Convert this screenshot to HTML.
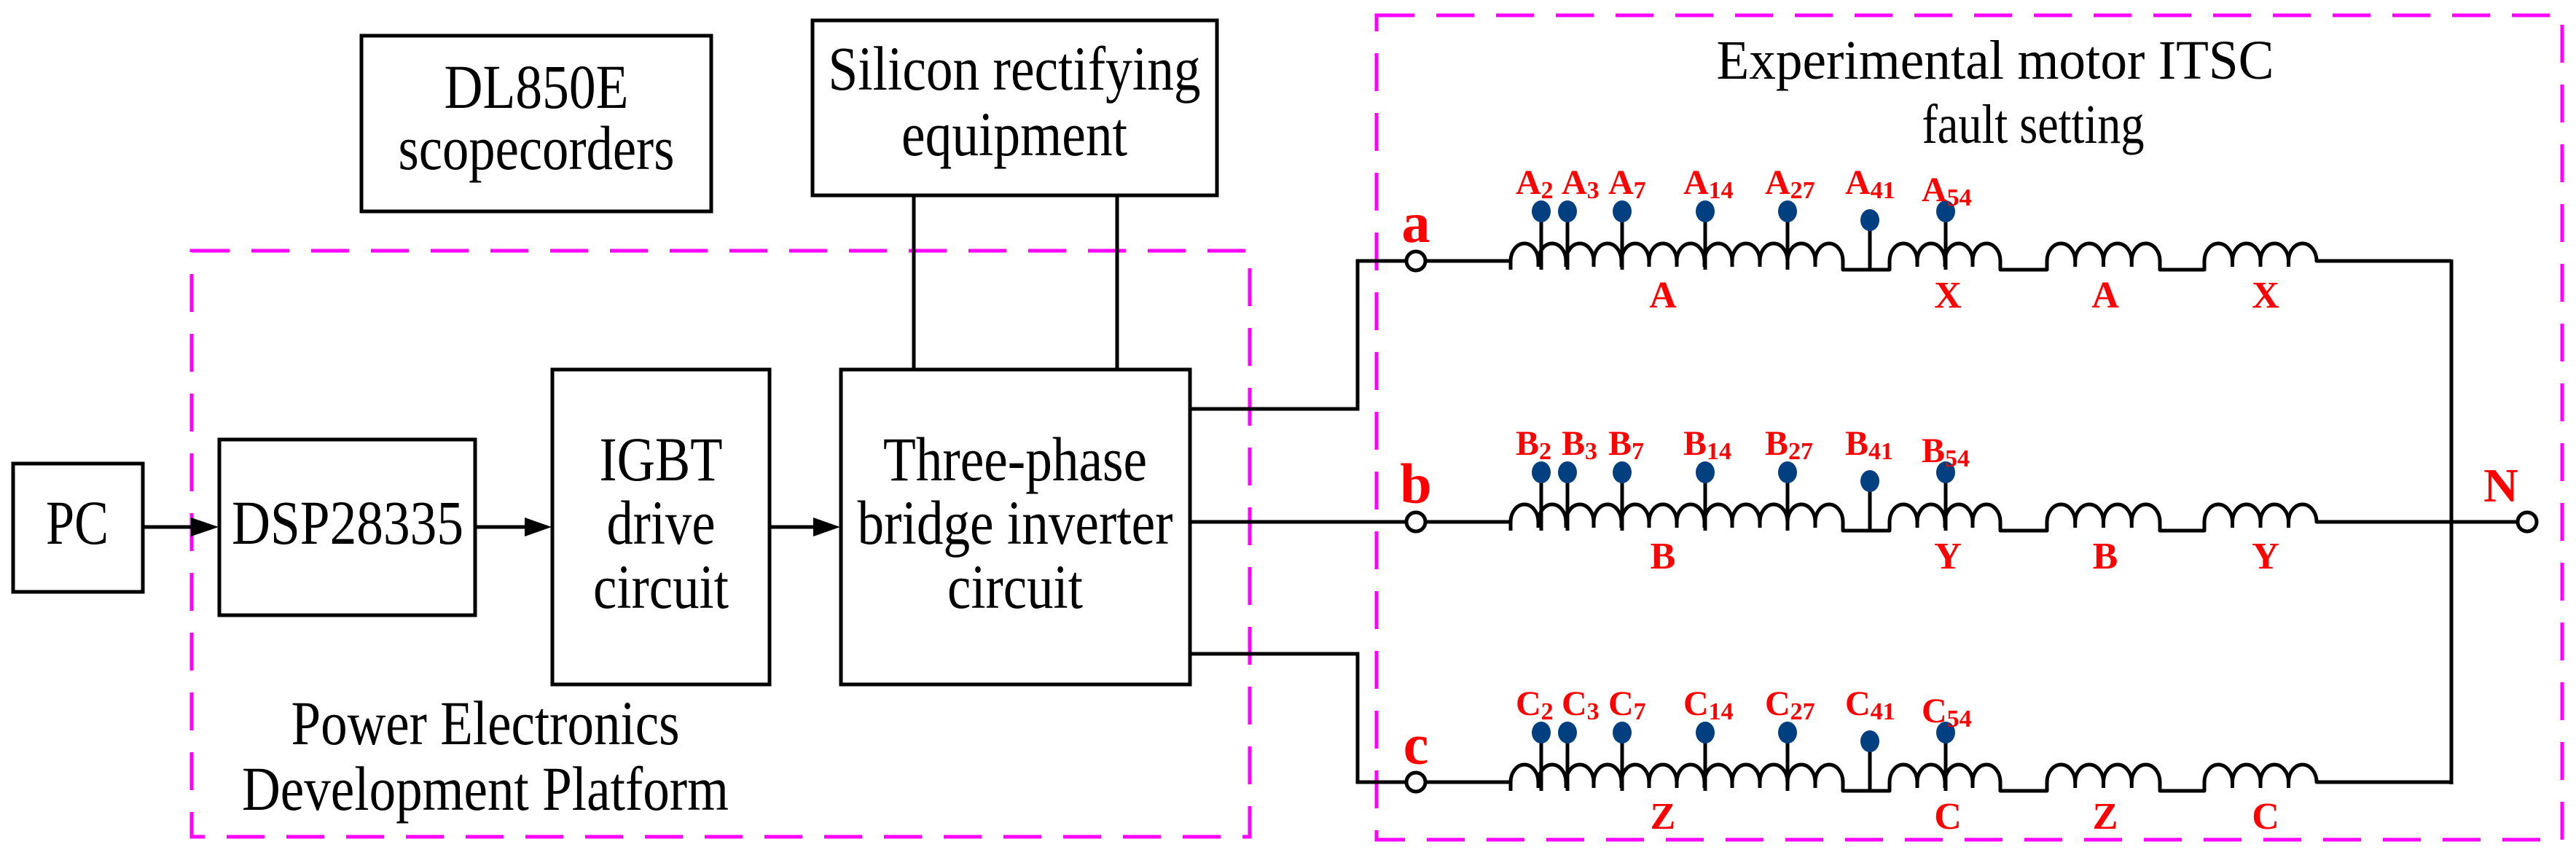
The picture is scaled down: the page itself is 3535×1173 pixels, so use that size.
<!DOCTYPE html>
<html><head><meta charset="utf-8"><style>html,body{margin:0;padding:0;background:#fff}svg{display:block}
text,tspan{font-family:"Liberation Serif","Times New Roman",serif;}</style></head>
<body>
<svg width="3535" height="1173" viewBox="0 0 3535 1173" xmlns="http://www.w3.org/2000/svg" xmlns:xlink="http://www.w3.org/1999/xlink">
<rect width="3535" height="1173" fill="#fff"/>
<g fill="none" stroke="#ff00ff" stroke-width="5" stroke-dasharray="52 30">
<rect x="263" y="344" width="1452" height="804"/>
<rect x="1889" y="21" width="1627" height="1131"/>
</g>
<g fill="none" stroke="#000" stroke-width="5">
<rect x="18" y="636" width="178" height="176"/>
<rect x="301" y="603" width="351" height="241"/>
<rect x="758" y="507" width="298" height="432"/>
<rect x="1154" y="507" width="479" height="432"/>
<rect x="496" y="49" width="480" height="241"/>
<rect x="1115" y="28" width="555" height="240"/>
<line x1="1254" y1="268" x2="1254" y2="507"/>
<line x1="1533" y1="268" x2="1533" y2="507"/>
<line x1="196" y1="723" x2="262" y2="723"/>
<line x1="652" y1="723" x2="720" y2="723"/>
<line x1="1056" y1="723" x2="1116" y2="723"/>
<polyline points="1633,561 1863,561 1863,358 1930,358"/>
<polyline points="1633,716 1930,716"/>
<polyline points="1633,897 1863,897 1863,1073 1930,1073"/>
<line x1="3364" y1="356" x2="3364" y2="1076"/>
<line x1="3364" y1="716" x2="3455" y2="716"/>
</g>
<g fill="#000">
<polygon points="262,710 300,723 262,736"/>
<polygon points="720,710 757,723 720,736"/>
<polygon points="1116,710 1153,723 1116,736"/>
</g>
<g font-size="86" text-anchor="middle" fill="#000">
<text x="736" y="148" textLength="253" lengthAdjust="spacingAndGlyphs">DL850E</text>
<text x="736" y="232" textLength="379" lengthAdjust="spacingAndGlyphs">scopecorders</text>
<text x="1392" y="123" textLength="511" lengthAdjust="spacingAndGlyphs">Silicon rectifying</text>
<text x="1392" y="213" textLength="310" lengthAdjust="spacingAndGlyphs">equipment</text>
<text x="106" y="746" textLength="86" lengthAdjust="spacingAndGlyphs">PC</text>
<text x="477" y="746" textLength="318" lengthAdjust="spacingAndGlyphs">DSP28335</text>
<text x="907" y="659" textLength="169" lengthAdjust="spacingAndGlyphs">IGBT</text>
<text x="907" y="746" textLength="149" lengthAdjust="spacingAndGlyphs">drive</text>
<text x="907" y="834" textLength="186" lengthAdjust="spacingAndGlyphs">circuit</text>
<text x="1393" y="659" textLength="362" lengthAdjust="spacingAndGlyphs">Three-phase</text>
<text x="1393" y="746" textLength="433" lengthAdjust="spacingAndGlyphs">bridge inverter</text>
<text x="1393" y="834" textLength="186" lengthAdjust="spacingAndGlyphs">circuit</text>
<text x="666" y="1021" textLength="533" lengthAdjust="spacingAndGlyphs">Power Electronics</text>
<text x="666" y="1111" textLength="668" lengthAdjust="spacingAndGlyphs">Development Platform</text>
<text x="2738" y="108" font-size="76" textLength="765" lengthAdjust="spacingAndGlyphs">Experimental motor ITSC</text>
<text x="2790" y="196" font-size="76" textLength="305" lengthAdjust="spacingAndGlyphs">fault setting</text>
</g>
<defs>
<g id="wind">
<path fill="none" stroke="#000" stroke-width="5" stroke-linejoin="round" d="M1956,0 H2073 M2073,12 V0
a19,24 0 0 1 38,0 v8 m0,-8 a19,24 0 0 1 38,0 v8 m0,-8 a19,24 0 0 1 38,0 v8 m0,-8 a19,24 0 0 1 38,0 v8 m0,-8
a19,24 0 0 1 38,0 v8 m0,-8 a19,24 0 0 1 38,0 v8 m0,-8 a19,24 0 0 1 38,0 v8 m0,-8 a19,24 0 0 1 38,0 v8 m0,-8
a19,24 0 0 1 38,0 v8 m0,-8 a19,24 0 0 1 38,0 v8 m0,-8 a19,24 0 0 1 38,0 v8 m0,-8 a19,24 0 0 1 38,0
V12 H2593 V0
a19,24 0 0 1 38,0 v8 m0,-8 a19,24 0 0 1 38,0 v8 m0,-8 a19,24 0 0 1 38,0 v8 m0,-8 a19,24 0 0 1 38,0
V12 H2809 V0
a19.375,24 0 0 1 38.75,0 v8 m0,-8 a19.375,24 0 0 1 38.75,0 v8 m0,-8 a19.375,24 0 0 1 38.75,0 v8 m0,-8 a19.375,24 0 0 1 38.75,0
V12 H3025 V0
a19.25,24 0 0 1 38.5,0 v8 m0,-8 a19.25,24 0 0 1 38.5,0 v8 m0,-8 a19.25,24 0 0 1 38.5,0 v8 m0,-8 a19.25,24 0 0 1 38.5,0
H3364"/>
<g stroke="#000" stroke-width="5">
<line x1="2115" y1="-68" x2="2115" y2="12"/>
<line x1="2151" y1="-68" x2="2151" y2="12"/>
<line x1="2226" y1="-68" x2="2226" y2="12"/>
<line x1="2340" y1="-68" x2="2340" y2="12"/>
<line x1="2453" y1="-68" x2="2453" y2="12"/>
<line x1="2566" y1="-56" x2="2566" y2="12"/>
<line x1="2670" y1="-68" x2="2670" y2="12"/>
</g>
<g fill="#004080">
<ellipse cx="2115" cy="-68" rx="13" ry="15"/>
<ellipse cx="2151" cy="-68" rx="13" ry="15"/>
<ellipse cx="2226" cy="-68" rx="13" ry="15"/>
<ellipse cx="2340" cy="-68" rx="13" ry="15"/>
<ellipse cx="2453" cy="-68" rx="13" ry="15"/>
<ellipse cx="2566" cy="-56" rx="13" ry="15"/>
<ellipse cx="2670" cy="-68" rx="13" ry="15"/>
</g>
<circle cx="1943" cy="0" r="13" fill="#fff" stroke="#000" stroke-width="5"/>
</g>
</defs>
<use xlink:href="#wind" href="#wind" transform="translate(0,358)"/>
<use xlink:href="#wind" href="#wind" transform="translate(0,716)"/>
<use xlink:href="#wind" href="#wind" transform="translate(0,1073)"/>
<circle cx="3468" cy="716" r="13" fill="#fff" stroke="#000" stroke-width="5"/>
<g fill="#ff0000" font-weight="bold" font-size="48">
<g transform="translate(0,358)">
<text x="2080" y="-92">A<tspan font-size="34" dy="6">2</tspan></text>
<text x="2143" y="-92">A<tspan font-size="34" dy="6">3</tspan></text>
<text x="2207" y="-92">A<tspan font-size="34" dy="6">7</tspan></text>
<text x="2310" y="-92">A<tspan font-size="34" dy="6">14</tspan></text>
<text x="2422" y="-92">A<tspan font-size="34" dy="6">27</tspan></text>
<text x="2532" y="-92">A<tspan font-size="34" dy="6">41</tspan></text>
<text x="2637" y="-82">A<tspan font-size="34" dy="6">54</tspan></text>
<g text-anchor="middle" font-size="52"><text x="2282" y="64">A</text><text x="2673" y="64">X</text><text x="2889" y="64">A</text><text x="3109" y="64">X</text></g>
</g>
<g transform="translate(0,716)">
<text x="2080" y="-92">B<tspan font-size="34" dy="6">2</tspan></text>
<text x="2143" y="-92">B<tspan font-size="34" dy="6">3</tspan></text>
<text x="2207" y="-92">B<tspan font-size="34" dy="6">7</tspan></text>
<text x="2310" y="-92">B<tspan font-size="34" dy="6">14</tspan></text>
<text x="2422" y="-92">B<tspan font-size="34" dy="6">27</tspan></text>
<text x="2532" y="-92">B<tspan font-size="34" dy="6">41</tspan></text>
<text x="2637" y="-82">B<tspan font-size="34" dy="6">54</tspan></text>
<g text-anchor="middle" font-size="52"><text x="2282" y="64">B</text><text x="2673" y="64">Y</text><text x="2889" y="64">B</text><text x="3109" y="64">Y</text></g>
</g>
<g transform="translate(0,1073)">
<text x="2080" y="-92">C<tspan font-size="34" dy="6">2</tspan></text>
<text x="2143" y="-92">C<tspan font-size="34" dy="6">3</tspan></text>
<text x="2207" y="-92">C<tspan font-size="34" dy="6">7</tspan></text>
<text x="2310" y="-92">C<tspan font-size="34" dy="6">14</tspan></text>
<text x="2422" y="-92">C<tspan font-size="34" dy="6">27</tspan></text>
<text x="2532" y="-92">C<tspan font-size="34" dy="6">41</tspan></text>
<text x="2637" y="-82">C<tspan font-size="34" dy="6">54</tspan></text>
<g text-anchor="middle" font-size="52"><text x="2282" y="64">Z</text><text x="2673" y="64">C</text><text x="2889" y="64">Z</text><text x="3109" y="64">C</text></g>
</g>
<g text-anchor="middle">
<text x="1943" y="332" font-size="78">a</text>
<text x="1943" y="690" font-size="78">b</text>
<text x="1943" y="1048" font-size="78">c</text>
<text x="3432" y="688" font-size="66">N</text>
</g>
</g>
</svg>
</body></html>
